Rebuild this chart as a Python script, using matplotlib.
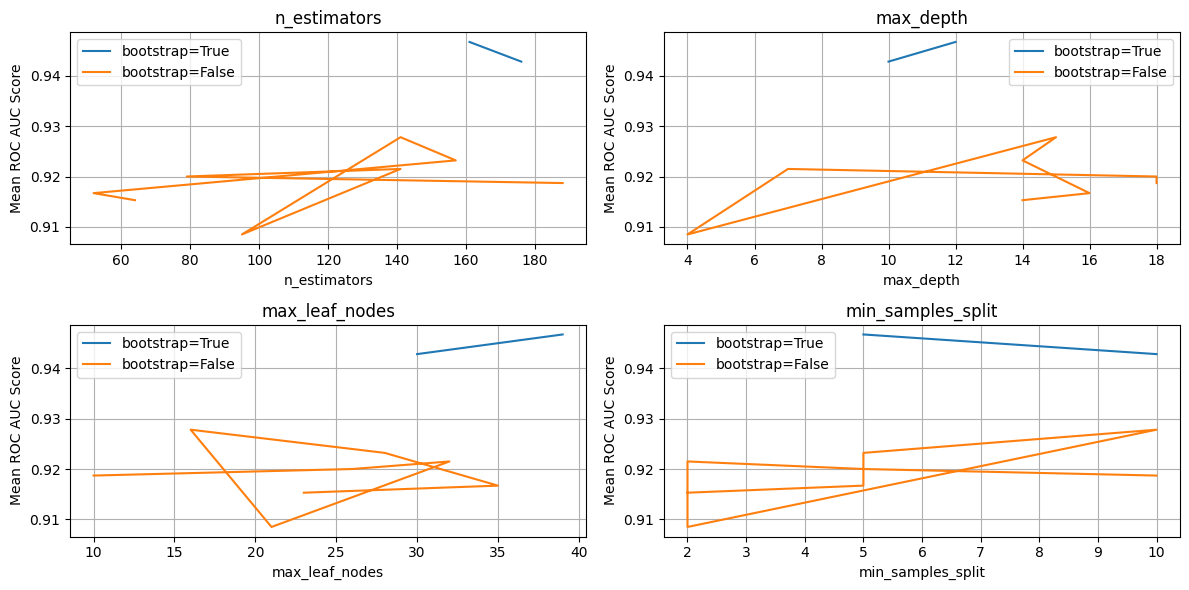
import numpy as np
import pandas as pd
import matplotlib
matplotlib.use('Agg')
import matplotlib.pyplot as plt

# search results, in trial order
bootstrap = [True, True,
             False, False, False, False, False, False, False, False]
n_estimators = [161, 176, 64, 52, 157, 141, 95, 141, 79, 188]
max_depth = [12, 10, 14, 16, 14, 15, 4, 7, 18, 18]
max_leaf_nodes = [39, 30, 23, 35, 28, 16, 21, 32, 26, 10]
min_samples_split = [5, 10, 2, 5, 5, 10, 2, 2, 5, 10]
mean_score = [0.9467, 0.9428,
              0.9153, 0.9167, 0.9232, 0.9278, 0.9085, 0.9215, 0.9200, 0.9187]

params = ['n_estimators', 'max_depth', 'max_leaf_nodes', 'min_samples_split']

df = pd.DataFrame({
    'bootstrap': bootstrap,
    'n_estimators': n_estimators,
    'max_depth': max_depth,
    'max_leaf_nodes': max_leaf_nodes,
    'min_samples_split': min_samples_split,
    'mean_test_score': mean_score,
})

fig, axes = plt.subplots(2, 2, figsize=(12, 6), dpi=100)

for ax, param in zip(axes.flat, params):
    for b in [True, False]:
        sub = df[df['bootstrap'] == b]
        ax.plot(sub[param], sub['mean_test_score'], label=f'bootstrap={b}')
    ax.set_title(param)
    ax.set_xlabel(param)
    ax.set_ylabel('Mean ROC AUC Score')
    ax.legend()
    ax.grid(True)

plt.tight_layout()
plt.savefig('out.png', bbox_inches='tight')
